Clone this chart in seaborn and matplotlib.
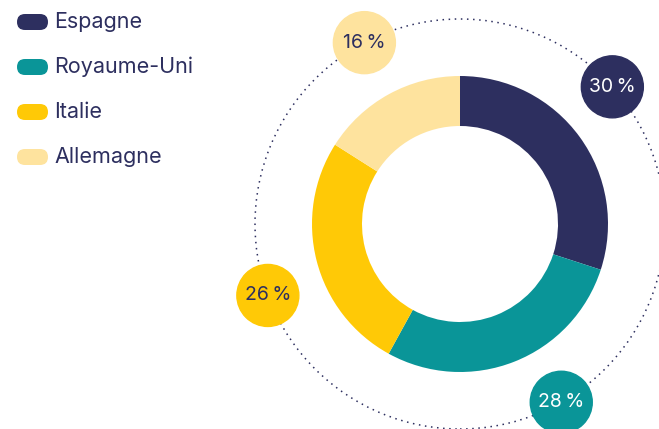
import numpy as np
import matplotlib
matplotlib.use("Agg")
import matplotlib.pyplot as plt
from matplotlib.patches import Circle, FancyBboxPatch
import seaborn as sns

# data
countries = ["Espagne", "Royaume-Uni", "Italie", "Allemagne"]
shares = [30, 28, 26, 16]
colors = ["#2d2f5f", "#0a9598", "#ffc906", "#fee39e"]
label_text_colors = ["white", "white", "#2d2f5f", "#2d2f5f"]

navy = "#2d2f5f"

sns.set_theme(style="white")
plt.rcParams["font.family"] = ["Inter", "DejaVu Sans"]

W, H = 659, 429
fig = plt.figure(figsize=(W / 100, H / 100), dpi=100)
ax = fig.add_axes([0, 0, 1, 1])

cx, cy = 460, H - 224
r_out, ring = 148, 50
r_dots = 205

wedges, _ = ax.pie(shares, colors=colors, startangle=90, counterclock=False,
                   radius=r_out, center=(cx, cy),
                   wedgeprops=dict(width=ring, linewidth=0))
for w in wedges:
    w.set_zorder(2)

# pie() resets the limits, so set them afterwards
ax.set_xlim(0, W)
ax.set_ylim(0, H)
ax.set_aspect("equal")
ax.axis("off")

# dotted guide circle
ax.add_patch(Circle((cx, cy), r_dots, fill=False, ec=navy, lw=1.1,
                    ls=(0, (1, 3)), zorder=1))

# percentage bubbles on the dotted circle
nudge = [6, 8, 6, -1]
for w, s, col, tcol, dn in zip(wedges, shares, colors, label_text_colors, nudge):
    mid = (w.theta1 + w.theta2) / 2 + dn
    x = cx + r_dots * np.cos(np.radians(mid))
    y = cy + r_dots * np.sin(np.radians(mid))
    ax.add_patch(Circle((x, y), 31, color=col, zorder=3))
    ax.text(x, y, f"{s}\u2009%", ha="center", va="center", fontsize=14,
            color=tcol, zorder=4)

# legend
for i, (name, col) in enumerate(zip(countries, colors)):
    y = H - (22 + 45 * i)
    ax.add_patch(FancyBboxPatch((17, y - 8), 31, 16,
                                boxstyle="round,pad=0,rounding_size=8",
                                fc=col, ec="none"))
    ax.text(54, y, name, ha="left", va="center", fontsize=15.5, color=navy)

fig.savefig("out.png", dpi=100)
